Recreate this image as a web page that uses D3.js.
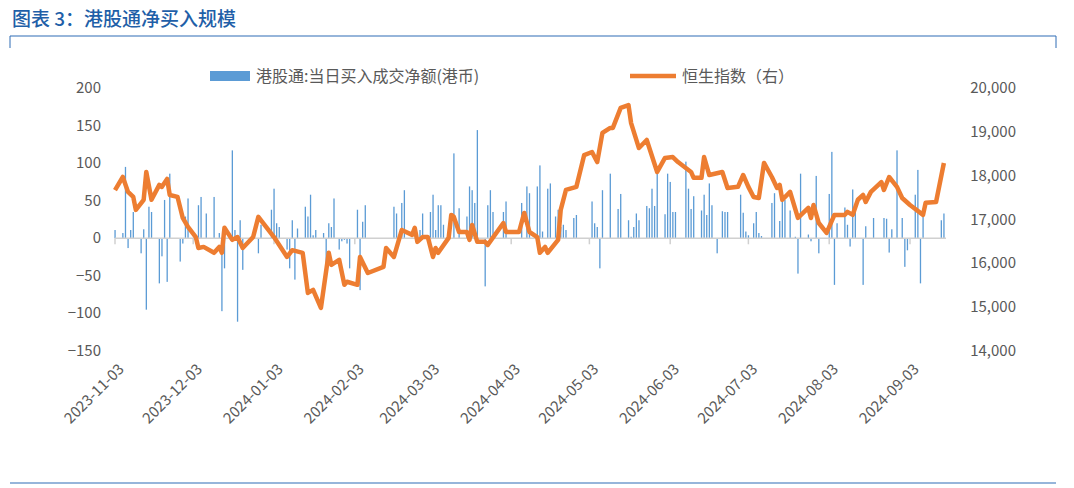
<!DOCTYPE html>
<html><head><meta charset="utf-8">
<script src="https://cdn.jsdelivr.net/npm/d3@7/dist/d3.min.js"></script>
<style>body{margin:0;background:#fff;font-family:"Noto Sans CJK SC","Noto Sans",sans-serif}</style>
</head><body><svg id="c" width="1074" height="488"></svg>
<script>
const startDate = "2023-11-03";
const tickLabels = ["2023-11-03","2023-12-03","2024-01-03","2024-02-03","2024-03-03","2024-04-03","2024-05-03","2024-06-03","2024-07-03","2024-08-03","2024-09-03"];
const leftTicks = [200,150,100,50,0,-50,-100,-150];
const rightTicks = [20000,19000,18000,17000,16000,15000,14000];
// HSI line: day offsets from start, values
const lineDays = [0,3,5,7,8,11,12,14,17,18,20,21,24,26,28,31,32,34,38,40,41,42,45,47,49,53,55,61,66,68,72,74,76,79,82,83,86,88,89,93,94,97,103,104,107,110,114,115,116,118,120,122,123,124,128,129,130,132,135,136,137,139,142,143,149,150,155,157,159,162,163,165,166,170,171,173,177,180,183,185,187,190,191,194,197,198,201,204,208,211,214,216,219,221,222,225,226,228,233,235,239,241,243,245,247,249,252,254,255,256,259,262,266,267,268,270,273,276,280,281,283,285,287,288,290,294,295,297,300,302,305,310,311,315,318];
const lineValues = [17670,17970,17630,17515,17220,17450,18085,17450,17790,17745,17925,17560,17515,17035,16830,16600,16350,16375,16240,16375,16240,16810,16535,16600,16350,16600,17060,16600,16145,16300,16240,15325,15395,14985,16240,15965,16080,15510,15580,15510,16145,15780,15920,16350,16145,16760,16650,16810,16490,16600,16600,16145,16350,16240,16580,17105,17060,16715,16715,16535,16875,16490,16490,16420,16920,16715,16715,17150,16715,16600,16240,16375,16240,16535,17220,17674,17745,18470,18540,18310,18975,19090,19090,19545,19610,19200,18630,18815,18085,18405,18425,18310,18175,18085,17950,17950,18425,18015,18085,17720,17745,18015,17745,17515,17490,18290,17970,17720,17790,17450,17630,17035,17265,17035,17330,16920,16695,17105,17105,17175,17105,17450,17560,17400,17630,17855,17674,17970,17745,17490,17330,17105,17380,17400,18290];
// Southbound net buy (HKD 100m): day offsets, values
const barDays = [0,3,4,5,6,7,10,11,12,13,14,17,18,19,20,21,25,26,27,28,32,33,35,38,40,41,42,45,46,47,48,49,55,56,60,61,62,63,66,67,68,69,70,73,74,75,76,77,80,81,82,83,84,86,87,88,89,90,93,94,95,96,107,108,110,111,117,118,121,122,123,124,125,126,130,132,135,136,137,138,139,142,143,144,145,149,150,156,158,159,162,163,164,166,167,169,170,171,172,173,176,177,183,184,185,186,187,190,193,194,197,198,199,200,201,204,205,206,207,208,211,212,213,214,215,219,220,221,222,225,226,227,228,229,231,233,234,235,240,241,242,243,245,246,247,248,252,253,255,256,257,259,261,262,263,266,267,269,270,274,275,276,277,280,281,282,283,284,287,288,291,295,296,297,298,300,302,303,304,307,308,309,310,317,318];
const barValues = [11,7,95,-13,11,35,-20,12,-95,42,35,-60,-24,51,-58,86,-31,-7,29,53,44,55,33,55,7,-97,-40,117,11,-111,24,-42,-20,18,38,66,20,15,-15,-40,24,-55,13,42,29,58,4,11,7,-38,20,15,53,-15,-4,-2,-7,-40,38,-69,22,44,42,33,47,64,11,33,35,58,11,44,44,18,113,40,29,69,64,47,144,-64,44,64,35,35,49,47,69,60,69,97,9,66,73,29,38,15,18,11,27,31,49,20,15,-40,64,86,39,59,24,2,15,33,24,43,40,66,43,86,32,86,75,35,35,102,66,39,56,37,58,31,73,44,-20,36,35,35,58,34,9,4,20,35,7,3,47,60,23,58,51,37,2,-47,86,5,-4,83,-20,59,115,-62,20,41,18,-11,65,42,-62,16,27,27,26,-19,12,117,27,-38,-16,58,91,-60,31,24,33];

const svg = d3.select("#c");
const parse = d3.timeParse("%Y-%m-%d");
const t0 = parse(startDate);
const x = d3.scaleTime().domain([t0, d3.timeDay.offset(t0, 305)]).range([115, 910]);
const yL = d3.scaleLinear().domain([-150, 200]).range([351, 88]);
const yR = d3.scaleLinear().domain([14000, 20000]).range([351, 88]);

// frame
svg.append("text").attr("x",12).attr("y",26).attr("fill","#1f5fa8").attr("font-size",19).attr("font-weight",500).text("图表 3：港股通净买入规模");
svg.append("line").attr("x1",10).attr("x2",1056).attr("y1",36).attr("y2",36).attr("stroke","#2f6db5").attr("stroke-width",1.2);
svg.append("line").attr("x1",10).attr("x2",10).attr("y1",36).attr("y2",48).attr("stroke","#2f6db5");
svg.append("line").attr("x1",1056).attr("x2",1056).attr("y1",36).attr("y2",48).attr("stroke","#2f6db5");
svg.append("line").attr("x1",10).attr("x2",1056).attr("y1",483).attr("y2",483).attr("stroke","#2f6db5").attr("stroke-width",1.2);

const txt = "#595959";
svg.append("g").selectAll("text").data(leftTicks).join("text")
  .attr("x",101).attr("y",d=>yL(d)+5).attr("text-anchor","end").attr("font-size",15).attr("fill",txt)
  .text(d=>d<0?"\u2212"+(-d):d);
svg.append("g").selectAll("text").data(rightTicks).join("text")
  .attr("x",1016).attr("y",d=>yR(d)+5).attr("text-anchor","end").attr("font-size",15).attr("fill",txt)
  .text(d=>d3.format(",")(d));

// bars
svg.append("g").selectAll("rect").data(barDays.map((d,i)=>({d,v:barValues[i]}))).join("rect")
  .attr("x",d=>x(d3.timeDay.offset(t0,d.d))-0.6).attr("width",1.3)
  .attr("y",d=>Math.min(yL(d.v),yL(0))).attr("height",d=>Math.abs(yL(d.v)-yL(0)))
  .attr("fill","#5b9bd5");

// zero axis + ticks
svg.append("line").attr("x1",115).attr("x2",946).attr("y1",yL(0)).attr("y2",yL(0)).attr("stroke","#d0d0d0").attr("stroke-width",1.5);
const tickDates = tickLabels.map(parse);
svg.append("g").selectAll("line").data(tickDates).join("line")
  .attr("x1",d=>x(d)).attr("x2",d=>x(d)).attr("y1",yL(0)).attr("y2",yL(0)+6).attr("stroke","#d0d0d0").attr("stroke-width",1.5);
svg.append("g").selectAll("text").data(tickLabels).join("text")
  .attr("transform",d=>`translate(${x(parse(d))+10},${370}) rotate(-45)`)
  .attr("text-anchor","end").attr("font-size",15).attr("fill",txt).text(d=>d);

// line
const line = d3.line().x(d=>x(d3.timeDay.offset(t0,d.d))).y(d=>yR(d.v));
svg.append("path").datum(lineDays.map((d,i)=>({d,v:lineValues[i]})))
  .attr("d",line).attr("fill","none").attr("stroke","#ed7d31").attr("stroke-width",4.5).attr("stroke-linejoin","round");

// legend
svg.append("rect").attr("x",210).attr("y",71).attr("width",40).attr("height",10).attr("fill","#5b9bd5");
svg.append("text").attr("x",256).attr("y",82).attr("font-size",16).attr("fill",txt).text("港股通:当日买入成交净额(港币)");
svg.append("line").attr("x1",630).attr("x2",676).attr("y1",76).attr("y2",76).attr("stroke","#ed7d31").attr("stroke-width",4.5);
svg.append("text").attr("x",682).attr("y",82).attr("font-size",16).attr("fill",txt).text("恒生指数（右）");
</script></body></html>
